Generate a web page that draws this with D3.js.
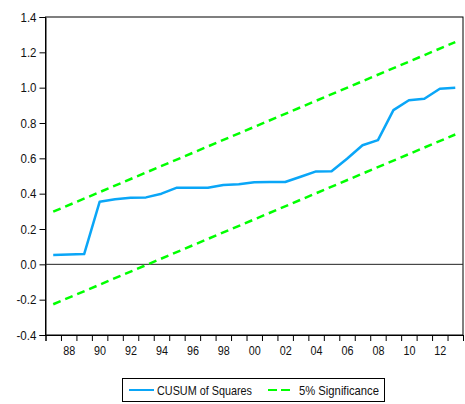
<!DOCTYPE html>
<html><head><meta charset="utf-8">
<script src="https://cdn.jsdelivr.net/npm/d3@7/dist/d3.min.js"></script>
<style>
body{margin:0;background:#fff;}
text{font-family:"Liberation Sans",Arial,sans-serif;}
</style></head>
<body><svg id="c" width="465" height="404"></svg>
<script>
const years = d3.range(1987, 2014);
const cusum = [0.053,0.055,0.058,0.354,0.368,0.377,0.379,0.400,0.434,0.434,0.434,0.449,0.453,0.465,0.466,0.466,0.496,0.526,0.527,0.598,0.674,0.703,0.873,0.929,0.937,0.994,1.0];
const boundYears = [1987, 2013];
const upper = [0.298, 1.258];
const lower = [-0.226, 0.735];
const yTicks = [-0.4,-0.2,0.0,0.2,0.4,0.6,0.8,1.0,1.2,1.4];
const xLabelYears = d3.range(1988, 2013, 2);

const L = 45.5, R = 463, T = 17, B = 335;
const svg = d3.select("#c");
const x = d3.scaleLinear().domain([1986.5, 2013.5]).range([L, R]);
const y = d3.scaleLinear().domain([-0.4, 1.4]).range([B, T]);

const condense = (sel, w) => sel.attr("textLength", w).attr("lengthAdjust", "spacingAndGlyphs");

// frame
svg.append("rect").attr("x", L).attr("y", T).attr("width", R - L).attr("height", B - T)
  .attr("fill", "none").attr("stroke", "#000").attr("stroke-width", 1);

// y axis
const ya = svg.append("g").attr("transform", `translate(${L},0)`)
  .call(d3.axisLeft(y).tickValues(yTicks).tickSize(6).tickPadding(3).tickFormat(d => d.toFixed(1)));
ya.select(".domain").attr("stroke", "#000");
ya.selectAll("text").attr("font-size", 13).attr("fill", "#111").attr("font-family", null)
  .each(function (d) { condense(d3.select(this), d < 0 ? 20 : 16); });

// x axis ticks at year boundaries
const xa = svg.append("g").attr("transform", `translate(0,${B})`)
  .call(d3.axisBottom(x).tickValues(d3.range(1986.5, 2014, 1)).tickSize(6).tickFormat(""));
xa.select(".domain").attr("stroke", "#000");
// x labels
const xl = svg.append("g").attr("transform", `translate(0,${B})`)
  .call(d3.axisBottom(x).tickValues(xLabelYears).tickSize(0).tickPadding(11)
    .tickFormat(d => String(d % 100).padStart(2, "0")));
xl.select(".domain").remove();
xl.selectAll("text").attr("font-size", 13).attr("fill", "#111").attr("font-family", null)
  .each(function () { condense(d3.select(this), 12); });

// zero line
svg.append("line").attr("x1", L).attr("x2", R).attr("y1", y(0)).attr("y2", y(0))
  .attr("stroke", "#222").attr("stroke-width", 1);

const line = d3.line().x(d => x(d[0])).y(d => y(d[1]));
const green = "#00ff00", blue = "#0aa6f7";
svg.append("path").datum(boundYears.map((yr, i) => [yr, upper[i]])).attr("d", line)
  .attr("fill", "none").attr("stroke", green).attr("stroke-width", 2.5).attr("stroke-dasharray", "8,5");
svg.append("path").datum(boundYears.map((yr, i) => [yr, lower[i]])).attr("d", line)
  .attr("fill", "none").attr("stroke", green).attr("stroke-width", 2.5).attr("stroke-dasharray", "8,5");
svg.append("path").datum(years.map((yr, i) => [yr, cusum[i]])).attr("d", line)
  .attr("fill", "none").attr("stroke", blue).attr("stroke-width", 2.5).attr("stroke-linejoin", "round");

// legend
const lg = svg.append("g");
lg.append("rect").attr("x", 122.5).attr("y", 378.5).attr("width", 262).attr("height", 23)
  .attr("fill", "#fff").attr("stroke", "#000").attr("stroke-width", 1);
lg.append("line").attr("x1", 129).attr("x2", 154).attr("y1", 390).attr("y2", 390)
  .attr("stroke", blue).attr("stroke-width", 2);
condense(lg.append("text").attr("x", 157).attr("y", 394.5).attr("font-size", 13).attr("fill", "#111").text("CUSUM of Squares"), 95);
lg.append("line").attr("x1", 268).attr("x2", 294).attr("y1", 390).attr("y2", 390)
  .attr("stroke", green).attr("stroke-width", 2).attr("stroke-dasharray", "9,4");
condense(lg.append("text").attr("x", 299).attr("y", 394.5).attr("font-size", 13).attr("fill", "#111").text("5% Significance"), 80);
</script></body></html>
